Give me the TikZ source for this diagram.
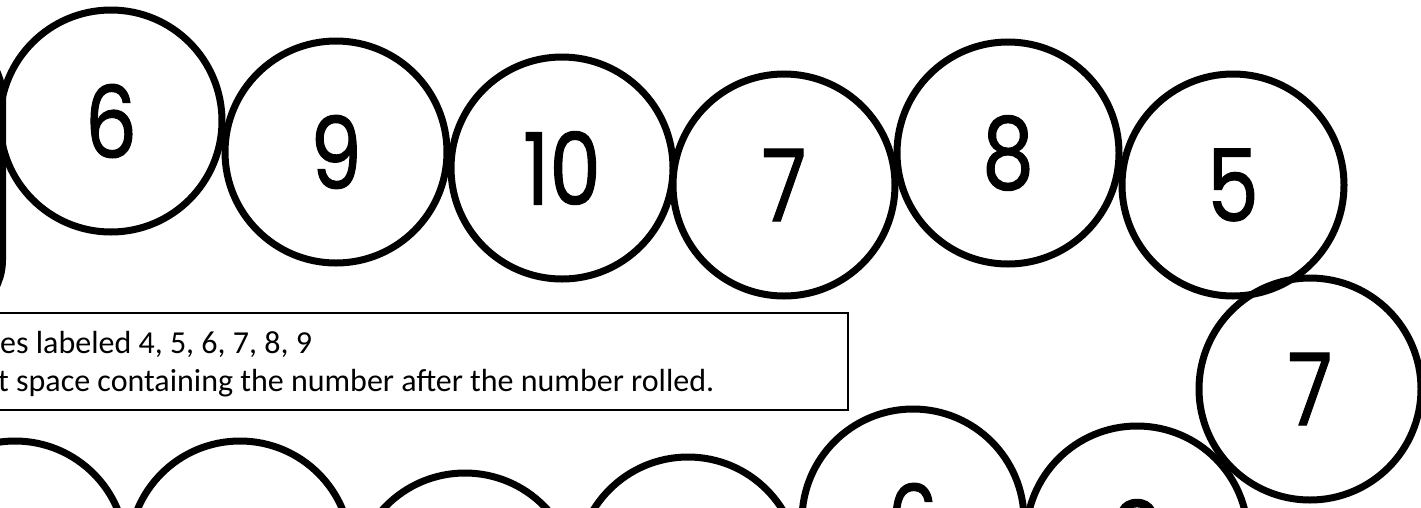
\documentclass[tikz,border=0pt]{standalone}
\usepackage{fontspec}
\setmainfont{Carlito}
\newfontfamily\digitfont{Poppins}[FakeStretch=0.82,FakeBold=1]
\usetikzlibrary{positioning}

\begin{document}
\begin{tikzpicture}[x=1pt,y=-1pt,
  spot/.style={draw,circle,line width=7pt,minimum size=222pt,inner sep=0pt,
    font=\digitfont\fontsize{100}{100}\selectfont},
  rules/.style={draw,line width=2pt,fill=white},
  ruletext/.style={anchor=base west,inner sep=0pt,font=\fontsize{32}{39}\selectfont}]
\useasboundingbox (0,0) rectangle (1421,507);
\clip (0,0) rectangle (1421,507);
% start field, only its right edge is on the page
\draw[line width=7pt,rounded corners=60pt] (-300,37) rectangle (2.5,320);
% top row
\node[spot] (t1) at (111,121) {6};
\node[spot] (t2) at (336,152) {9};
\node[spot] (t3) at (562,168) {10};
\node[spot] (t4) at (784,185) {7};
\node[spot] (t5) at (1008,153) {8};
\node[spot] (t6) at (1233,185) {5};
% turn
\node[spot] (r1) at (1310,389) {7};
% bottom row
\node[spot] (b6) at (1137,537) {8};
\node[spot] (b5) at (913,520) {6};
\node[spot] (b4) at (688,568) {};
\node[spot] (b3) at (465,584) {};
\node[spot] (b2) at (240,552) {};
\node[spot] (b1) at (15,552) {};
% rules
\draw[rules] (-20,313) rectangle (848,410);
\node[ruletext] (line1) at (0,353) {es labeled 4, 5, 6, 7, 8, 9};
\node[ruletext] (line2) at (-2,391) {t space containing the number after the number rolled.};
\end{tikzpicture}
\end{document}
